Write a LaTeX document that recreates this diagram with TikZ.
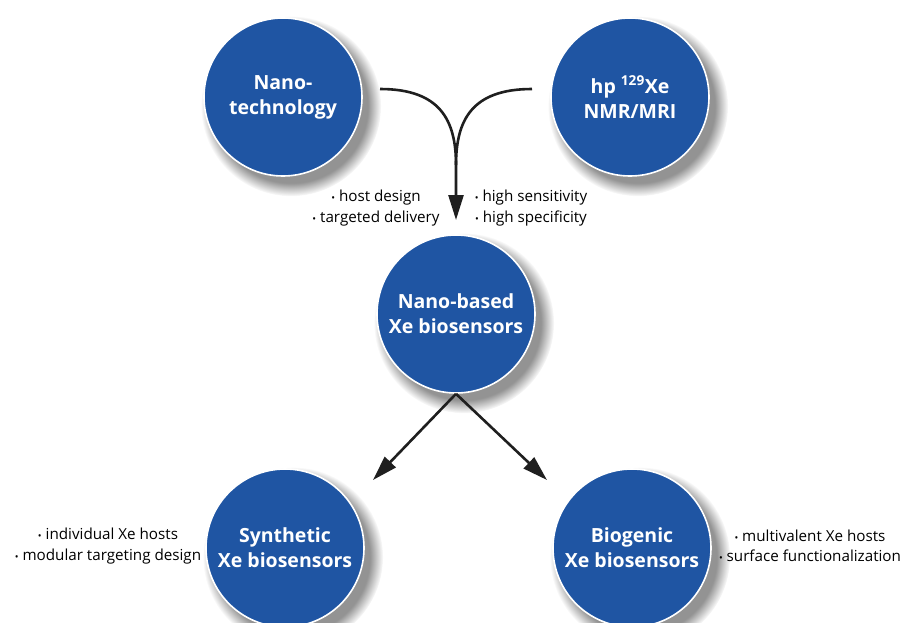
\documentclass[tikz,border=0pt]{standalone}
\usepackage{fontspec}
\setmainfont{Open Sans}
\usepackage{xcolor}
\definecolor{azulXe}{HTML}{1F55A3}
\usepackage{tikz}
\usetikzlibrary{arrows.meta,positioning,shadows}
\newcommand{\itembul}{{\fontsize{10}{10}\selectfont\textbullet}\ }

\begin{document}
\begin{tikzpicture}[x=1pt,y=-1pt,
 disc/.style={circle,draw=white,line width=1.6pt,fill=azulXe,minimum size=158pt,
 inner sep=0pt,align=center,text=white,font=\bfseries\fontsize{19.5}{25}\selectfont,
 circular drop shadow={shadow xshift=7pt,shadow yshift=-8pt,shadow scale=1.14,opacity=0.85}},
 note/.style={align=center,font=\fontsize{15.2}{20.5}\selectfont},
 arr/.style={-{Triangle[length=25pt,width=15pt]},line width=2.6pt,draw=black!88}]
 \useasboundingbox (0,0) rectangle (902,622);
 \node[disc] (nanotech) at (283,97) {Nano-\\technology};
 \node[disc] (xenmr) at (630,97) {hp \textsuperscript{129}Xe\\NMR/MRI};
 \node[disc] (nanobased) at (456,314) {Nano-based\\Xe biosensors};
 \node[disc] (synthetic) at (285,548) {Synthetic\\Xe biosensors};
 \node[disc] (biogenic) at (632,548) {Biogenic\\Xe biosensors};
 \node[note] (nanonote) at (376,208) {\itembul host design\\\itembul targeted delivery};
 \node[note] (xenote) at (531,208) {\itembul high sensitivity\\\itembul high specificity};
 \node[note] (synnote) at (108,546) {\itembul individual Xe hosts\\\itembul modular targeting design};
 \node[note] (bionote) at (810,546) {\itembul multivalent Xe hosts\\\itembul surface functionalization};
 % merging arrow
 \coordinate (startL) at (380,89);
 \coordinate (startR) at (532,89);
 \coordinate (merge) at (456,165);
 \coordinate (tipT) at (456,220);
 \draw[line width=2.6pt,draw=black!88] (startR) .. controls (472,89) and (456,120) .. (merge);
 \draw[arr] (startL) .. controls (440,89) and (456,120) .. (merge) -- (tipT);
 % splitting arrows
 \coordinate (tipL) at (373,480);
 \coordinate (tipR) at (547,480);
 \draw[arr] (nanobased.south) -- (tipL);
 \draw[arr] (nanobased.south) -- (tipR);
\end{tikzpicture}
\end{document}
